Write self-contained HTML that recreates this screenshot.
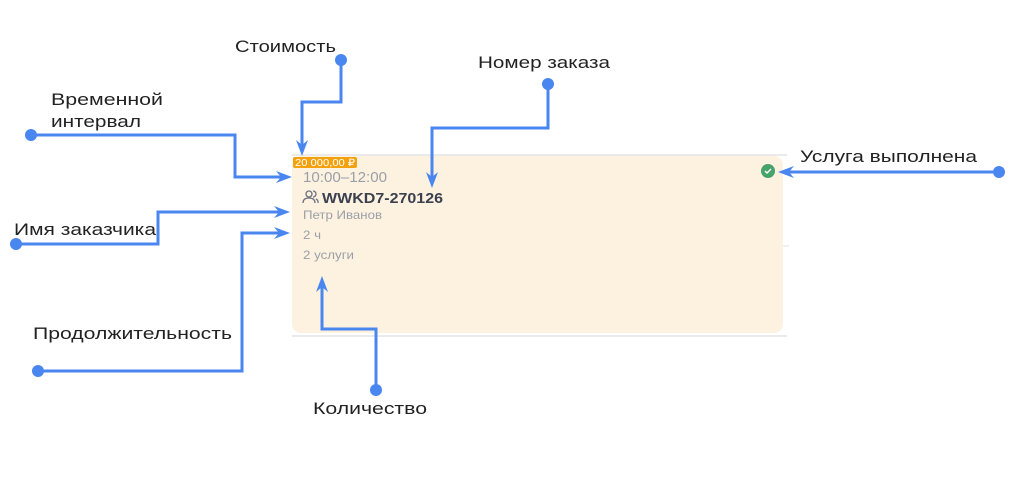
<!DOCTYPE html>
<html><head><meta charset="utf-8"><style>
body{margin:0;background:#fff;width:1013px;height:473px;overflow:hidden;font-family:"Liberation Sans",sans-serif}
</style></head><body>
<svg width="1013" height="473" xmlns="http://www.w3.org/2000/svg">
<line x1="292" y1="155" x2="787" y2="155" stroke="#e3e3e3" stroke-width="1.5"/>
<line x1="292" y1="336" x2="787" y2="336" stroke="#e3e3e3" stroke-width="1.5"/>
<line x1="783" y1="246" x2="789" y2="246" stroke="#e3e3e3" stroke-width="1"/>
<rect x="292" y="156" width="491" height="177" rx="9" fill="#fdf1e0"/>
<rect x="293" y="157" width="64" height="11" rx="2" fill="#f4a10e"/>
<text x="295" y="166" font-size="10" fill="#fff" textLength="60" lengthAdjust="spacingAndGlyphs">20 000,00 ₽</text>
<text x="303" y="182" font-size="15" fill="#9aa0a8" textLength="84" lengthAdjust="spacingAndGlyphs">10:00–12:00</text>
<g stroke="#6b7280" stroke-width="1.3" fill="none"><circle cx="309" cy="194" r="3"/><path d="M303 203c0-4 3-5 6-5s6 1 6 5M313 191a3 3 0 0 1 0 6M316 199c2 1 2 2 2 4"/></g>
<text x="322" y="203" font-size="15" font-weight="bold" fill="#3c4150" textLength="121" lengthAdjust="spacingAndGlyphs">WWKD7-270126</text>
<text x="303" y="219" font-size="12" fill="#9aa0a8" textLength="79" lengthAdjust="spacingAndGlyphs">Петр Иванов</text>
<text x="303" y="239" font-size="12" fill="#9aa0a8" textLength="18" lengthAdjust="spacingAndGlyphs">2 ч</text>
<text x="303" y="259" font-size="12" fill="#9aa0a8" textLength="51" lengthAdjust="spacingAndGlyphs">2 услуги</text>
<circle cx="768" cy="171" r="7" fill="#46a36a"/>
<path d="M765 171l2 2 4-4" stroke="#fff" stroke-width="1.5" fill="none"/>
<g stroke="#4a86f0" stroke-width="3" fill="none">
<path d="M341 60V102H302V150"/>
<path d="M31 135H235V177H286"/>
<path d="M548 84V128H432V182"/>
<path d="M16 244H158V212H284"/>
<path d="M38 371H242V233H284"/>
<path d="M376 390V329H322V282"/>
<path d="M999 172H784"/>
</g>
<g fill="#4a86f0">
<circle cx="341" cy="60" r="6"/><circle cx="31" cy="135" r="6"/><circle cx="548" cy="84" r="6"/>
<circle cx="16" cy="244" r="6"/><circle cx="38" cy="371" r="6"/><circle cx="376" cy="390" r="6"/><circle cx="999" cy="172" r="6"/>
<path d="M302 156l-6-16 6 5 6-5z"/>
<path d="M292 177l-16-6 5 6-5 6z"/>
<path d="M432 188l-6-16 6 5 6-5z"/>
<path d="M290 212l-16-6 5 6-5 6z"/>
<path d="M290 233l-16-6 5 6-5 6z"/>
<path d="M322 276l-6 16 6-5 6 5z"/>
<path d="M778 172l16-6-5 6 5 6z"/>
</g>
<g font-size="17" fill="#222" lengthAdjust="spacingAndGlyphs">
<text x="235" y="52" textLength="101" lengthAdjust="spacingAndGlyphs">Стоимость</text>
<text x="478" y="68" textLength="132" lengthAdjust="spacingAndGlyphs">Номер заказа</text>
<text x="51" y="105" textLength="112" lengthAdjust="spacingAndGlyphs">Временной</text>
<text x="51" y="127" textLength="90" lengthAdjust="spacingAndGlyphs">интервал</text>
<text x="800" y="162" textLength="177" lengthAdjust="spacingAndGlyphs">Услуга выполнена</text>
<text x="14" y="235" textLength="142" lengthAdjust="spacingAndGlyphs">Имя заказчика</text>
<text x="33" y="339" textLength="199" lengthAdjust="spacingAndGlyphs">Продолжительность</text>
<text x="313" y="414" textLength="114" lengthAdjust="spacingAndGlyphs">Количество</text>
</g>
</svg>
</body></html>
